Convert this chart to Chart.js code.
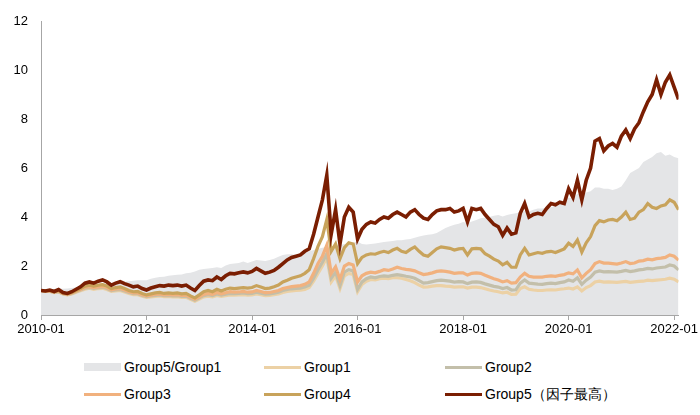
<!DOCTYPE html>
<html>
<head>
<meta charset="utf-8">
<script src="https://cdn.jsdelivr.net/npm/chart.js@4.4.1/dist/chart.umd.min.js"></script>
<style>
    body { margin: 0; background: #fff; font-family: "Liberation Sans", Arial, sans-serif; }
    #wrap { position: relative; width: 700px; height: 415px; }
    #chart { position: absolute; left: 0; top: 0; }
    .item { position: absolute; font-size: 14px; color: #000; line-height: 16px; white-space: nowrap; }
    .item span.sw { display: inline-block; width: 37px; margin-right: 3px; vertical-align: middle; }
    .item span.txt { vertical-align: middle; }
</style>
</head>
<body>
<div id="wrap">
    <canvas id="chart" width="700" height="345"></canvas>
    <div id="legend"></div>
</div>
<script>
// monthly points, index 0 = 2010-01 ... index 145 = 2022-02
const tickLabels = ['2010-01', '2012-01', '2014-01', '2016-01', '2018-01', '2020-01', '2022-01'];

const ratio = [
    1.00, 1.02, 1.05, 1.06, 1.08, 1.07, 1.08, 1.10, 1.12, 1.15, 1.20, 1.22,
    1.22, 1.26, 1.30, 1.30, 1.28, 1.32, 1.35, 1.36, 1.38, 1.40, 1.42, 1.42,
    1.42, 1.48, 1.52, 1.55, 1.56, 1.60, 1.62, 1.64, 1.65, 1.70, 1.72, 1.78,
    1.85, 1.88, 1.90, 1.92, 1.95, 1.92, 2.02, 2.08, 2.10, 2.12, 2.18, 2.12,
    2.18, 2.25, 2.22, 2.20, 2.25, 2.30, 2.38, 2.45, 2.48, 2.48, 2.45, 2.45,
    2.55, 2.60, 2.65, 2.70, 2.75, 2.78, 2.80, 2.85, 2.85, 2.90, 2.92, 2.95,
    3.00, 2.90, 2.88, 2.90, 2.92, 2.95, 2.98, 3.00, 3.02, 3.05, 3.05, 3.08,
    3.10, 3.15, 3.20, 3.25, 3.28, 3.30, 3.35, 3.45, 3.55, 3.62, 3.68, 3.72,
    3.80, 3.75, 3.82, 3.88, 3.95, 3.98, 4.00, 4.05, 4.08, 4.02, 4.08, 4.12,
    4.15, 4.18, 4.25, 4.22, 4.30, 4.35, 4.35, 4.38, 4.40, 4.45, 4.50, 4.70,
    4.80, 4.75, 4.95, 4.90, 5.00, 5.05, 5.20, 5.20, 5.15, 5.15, 5.10, 5.15,
    5.25, 5.50, 5.80, 5.90, 6.00, 6.25, 6.35, 6.45, 6.60, 6.65, 6.50, 6.55,
    6.45, 6.40
];

const group1 = [
    1.00, 0.96, 0.96, 0.91, 0.94, 0.86, 0.82, 0.86, 0.93, 0.99, 1.05, 1.09,
    1.05, 1.08, 1.09, 1.04, 0.96, 0.98, 1.00, 0.94, 0.88, 0.83, 0.83, 0.77,
    0.72, 0.74, 0.76, 0.78, 0.75, 0.76, 0.74, 0.75, 0.72, 0.72, 0.64, 0.56,
    0.65, 0.74, 0.77, 0.74, 0.80, 0.76, 0.79, 0.82, 0.81, 0.82, 0.83, 0.81,
    0.82, 0.86, 0.83, 0.79, 0.80, 0.83, 0.86, 0.92, 0.96, 0.98, 1.00, 1.01,
    1.04, 1.12, 1.38, 1.70, 2.00, 2.35, 1.35, 1.60, 1.08, 1.60, 1.70, 1.65,
    0.95, 1.25, 1.38, 1.45, 1.43, 1.48, 1.50, 1.48, 1.52, 1.52, 1.50, 1.45,
    1.40, 1.32, 1.22, 1.14, 1.15, 1.18, 1.20, 1.20, 1.18, 1.17, 1.14, 1.15,
    1.15, 1.10, 1.14, 1.14, 1.12, 1.07, 1.02, 0.98, 0.95, 0.90, 0.93, 0.84,
    0.85, 1.08, 1.15, 1.05, 1.02, 1.00, 1.00, 1.02, 1.03, 1.02, 1.05, 1.07,
    1.10, 1.06, 1.15, 0.98, 1.12, 1.20, 1.35, 1.38, 1.34, 1.35, 1.34, 1.33,
    1.35, 1.37, 1.33, 1.35, 1.37, 1.38, 1.42, 1.40, 1.42, 1.44, 1.46, 1.50,
    1.46, 1.35
];

const group2 = [
    1.00, 0.97, 0.97, 0.92, 0.95, 0.87, 0.83, 0.88, 0.95, 1.02, 1.09, 1.13,
    1.09, 1.12, 1.13, 1.08, 1.00, 1.02, 1.04, 0.98, 0.92, 0.87, 0.87, 0.80,
    0.75, 0.78, 0.80, 0.82, 0.79, 0.80, 0.78, 0.79, 0.76, 0.77, 0.68, 0.60,
    0.70, 0.79, 0.83, 0.79, 0.86, 0.81, 0.85, 0.88, 0.87, 0.88, 0.90, 0.87,
    0.88, 0.93, 0.89, 0.85, 0.86, 0.89, 0.93, 1.00, 1.04, 1.07, 1.09, 1.10,
    1.14, 1.22, 1.50, 1.85, 2.15, 2.50, 1.50, 1.75, 1.20, 1.75, 1.85, 1.80,
    1.05, 1.35, 1.48, 1.55, 1.52, 1.57, 1.60, 1.58, 1.62, 1.65, 1.62, 1.58,
    1.55, 1.50, 1.40, 1.30, 1.32, 1.36, 1.40, 1.42, 1.40, 1.38, 1.34, 1.36,
    1.35, 1.28, 1.34, 1.35, 1.33, 1.27, 1.22, 1.17, 1.14, 1.08, 1.12, 1.02,
    1.03, 1.30, 1.43, 1.30, 1.28, 1.26, 1.25, 1.28, 1.30, 1.28, 1.32, 1.35,
    1.43, 1.38, 1.52, 1.25, 1.42, 1.55, 1.75, 1.80, 1.76, 1.77, 1.76, 1.75,
    1.78, 1.82, 1.77, 1.80, 1.84, 1.86, 1.90, 1.88, 1.92, 1.94, 1.96, 2.04,
    2.00, 1.84
];

const group3 = [
    1.00, 0.97, 0.98, 0.93, 0.97, 0.88, 0.84, 0.90, 0.97, 1.04, 1.12, 1.16,
    1.12, 1.15, 1.17, 1.12, 1.03, 1.06, 1.08, 1.02, 0.95, 0.90, 0.90, 0.83,
    0.78, 0.81, 0.84, 0.86, 0.82, 0.84, 0.82, 0.83, 0.80, 0.81, 0.72, 0.64,
    0.74, 0.84, 0.88, 0.84, 0.92, 0.86, 0.91, 0.95, 0.93, 0.94, 0.96, 0.93,
    0.94, 1.00, 0.96, 0.91, 0.92, 0.96, 1.00, 1.08, 1.12, 1.16, 1.18, 1.20,
    1.25, 1.35, 1.70, 2.10, 2.40, 2.85, 1.70, 1.97, 1.45, 2.00, 2.10, 2.04,
    1.35, 1.60, 1.70, 1.75, 1.72, 1.78, 1.85, 1.82, 1.88, 1.95, 1.90, 1.86,
    1.84, 1.80, 1.72, 1.65, 1.68, 1.72, 1.78, 1.80, 1.78, 1.75, 1.70, 1.72,
    1.72, 1.63, 1.70, 1.72, 1.70, 1.62, 1.55, 1.48, 1.43, 1.35, 1.40, 1.30,
    1.32, 1.55, 1.70, 1.58, 1.55, 1.55, 1.55, 1.58, 1.60, 1.58, 1.62, 1.65,
    1.72, 1.68, 1.84, 1.52, 1.70, 1.85, 2.10, 2.18, 2.12, 2.12, 2.10, 2.08,
    2.12, 2.18, 2.10, 2.12, 2.20, 2.22, 2.28, 2.25, 2.30, 2.32, 2.35, 2.45,
    2.40, 2.24
];

const group4 = [
    1.00, 0.98, 1.00, 0.95, 1.00, 0.90, 0.86, 0.92, 1.00, 1.08, 1.18, 1.22,
    1.18, 1.22, 1.24, 1.18, 1.08, 1.12, 1.15, 1.08, 1.00, 0.95, 0.96, 0.88,
    0.82, 0.86, 0.90, 0.92, 0.88, 0.90, 0.88, 0.90, 0.86, 0.88, 0.78, 0.70,
    0.82, 0.95, 1.00, 0.95, 1.05, 0.98, 1.05, 1.10, 1.08, 1.10, 1.12, 1.10,
    1.12, 1.20, 1.14, 1.08, 1.10, 1.15, 1.22, 1.35, 1.42, 1.50, 1.55, 1.60,
    1.70, 1.85, 2.30, 2.80, 3.20, 3.90, 2.60, 2.90, 2.30, 2.75, 2.95, 2.90,
    2.10, 2.35, 2.45, 2.50, 2.48, 2.55, 2.60, 2.55, 2.65, 2.72, 2.60, 2.55,
    2.68, 2.78, 2.60, 2.45, 2.40, 2.55, 2.70, 2.78, 2.75, 2.72, 2.65, 2.70,
    2.72, 2.45, 2.70, 2.72, 2.70, 2.50, 2.40, 2.28, 2.20, 2.05, 2.15, 1.95,
    1.95, 2.45, 2.72, 2.45, 2.50, 2.55, 2.52, 2.58, 2.60, 2.55, 2.62, 2.70,
    2.93, 2.80, 3.06, 2.57, 2.95, 3.20, 3.65, 3.85, 3.80, 3.88, 3.90, 3.85,
    4.00, 4.20, 3.90, 3.95, 4.20, 4.30, 4.55, 4.40, 4.35, 4.45, 4.50, 4.70,
    4.60, 4.30
];

const group5 = [
    1.00, 0.98, 1.02, 0.96, 1.04, 0.92, 0.88, 0.95, 1.05, 1.15, 1.30, 1.35,
    1.30, 1.38, 1.43, 1.35, 1.22, 1.30, 1.36, 1.28, 1.22, 1.15, 1.18, 1.08,
    1.02, 1.10, 1.15, 1.20, 1.18, 1.22, 1.20, 1.22, 1.18, 1.22, 1.10, 1.00,
    1.20, 1.38, 1.43, 1.40, 1.55, 1.45, 1.60, 1.70, 1.68, 1.72, 1.76, 1.72,
    1.78, 1.90, 1.80, 1.70, 1.75, 1.82, 1.95, 2.10, 2.25, 2.35, 2.40, 2.45,
    2.60, 2.70, 3.30, 4.00, 4.70, 5.70, 3.30, 4.30, 2.90, 4.00, 4.40, 4.20,
    3.10, 3.50, 3.70, 3.80, 3.75, 3.90, 4.00, 3.95, 4.10, 4.20, 4.10, 4.00,
    4.20, 4.30, 4.10, 3.95, 3.90, 4.10, 4.25, 4.30, 4.30, 4.35, 4.20, 4.25,
    4.35, 3.80, 4.35, 4.30, 4.35, 4.10, 3.90, 3.70, 3.60, 3.25, 3.55, 3.30,
    3.35, 4.15, 4.55, 4.00, 4.10, 4.15, 4.10, 4.35, 4.55, 4.50, 4.60, 4.55,
    5.15, 4.80, 5.50, 4.70, 5.50, 6.00, 7.10, 7.20, 6.70, 6.90, 7.00, 6.85,
    7.30, 7.55, 7.20, 7.60, 7.85, 8.30, 8.70, 9.00, 9.60, 9.00, 9.50, 9.80,
    9.30, 8.80
];

const seriesNames = ['Group5/Group1', 'Group1', 'Group2', 'Group3', 'Group4', 'Group5（因子最高）'];
const seriesColors = ['#e4e5e7', '#ecd1a5', '#c3bfaa', '#f1b17e', '#c8a35b', '#7a1e02'];

function toPoints(arr) {
    return arr.map((v, i) => ({ x: i, y: v }));
}

const allData = [ratio, group1, group2, group3, group4, group5];

const datasets = allData.map((arr, i) => {
    const ds = {
        label: seriesNames[i],
        data: toPoints(arr),
        borderColor: seriesColors[i],
        borderWidth: i === 5 ? 3.6 : 3.2,
        pointRadius: 0,
        tension: 0,
        order: 5 - i,
        fill: false
    };
    if (i === 0) {
        ds.fill = 'origin';
        ds.backgroundColor = seriesColors[0];
        ds.borderWidth = 0;
        ds.borderColor = 'rgba(0,0,0,0)';
    }
    return ds;
});

new Chart(document.getElementById('chart').getContext('2d'), {
    type: 'line',
    data: { datasets: datasets },
    options: {
        responsive: false,
        animation: false,
        layout: { padding: { top: 21, left: 0, right: 0, bottom: 0 } },
        plugins: {
            legend: { display: false },
            tooltip: { enabled: false }
        },
        scales: {
            x: {
                type: 'linear',
                min: 0,
                max: 145,
                afterFit: function(scale) { scale.height = 30; },
                ticks: {
                    stepSize: 24,
                    includeBounds: false,
                    autoSkip: false,
                    maxRotation: 0,
                    padding: 2,
                    color: '#000',
                    font: { family: 'Liberation Sans', size: 13 },
                    callback: function(v) { return tickLabels[v / 24]; }
                },
                grid: { drawOnChartArea: false, drawTicks: true, tickLength: 5, color: '#a6a6a6' },
                border: { display: true, color: '#a6a6a6', width: 1 }
            },
            y: {
                min: 0,
                max: 12,
                afterFit: function(scale) { scale.width = 41; },
                ticks: {
                    stepSize: 2,
                    padding: 13,
                    color: '#000',
                    font: { family: 'Liberation Sans', size: 13 }
                },
                grid: { drawOnChartArea: false, drawTicks: false },
                border: { display: true, color: '#a6a6a6', width: 1 }
            }
        }
    }
});

// legend laid out like the original: 3 columns x 2 rows
const legendPos = [[84, 358], [264, 358], [445, 358], [84, 385], [264, 385], [445, 385]];
const legend = document.getElementById('legend');
seriesNames.forEach((name, i) => {
    const item = document.createElement('div');
    item.className = 'item';
    item.style.left = legendPos[i][0] + 'px';
    item.style.top = legendPos[i][1] + 'px';
    const sw = document.createElement('span');
    sw.className = 'sw';
    sw.style.height = i === 0 ? '8px' : '3px';
    sw.style.background = seriesColors[i];
    const txt = document.createElement('span');
    txt.className = 'txt';
    txt.textContent = name;
    item.appendChild(sw);
    item.appendChild(txt);
    legend.appendChild(item);
});
</script>
</body>
</html>
